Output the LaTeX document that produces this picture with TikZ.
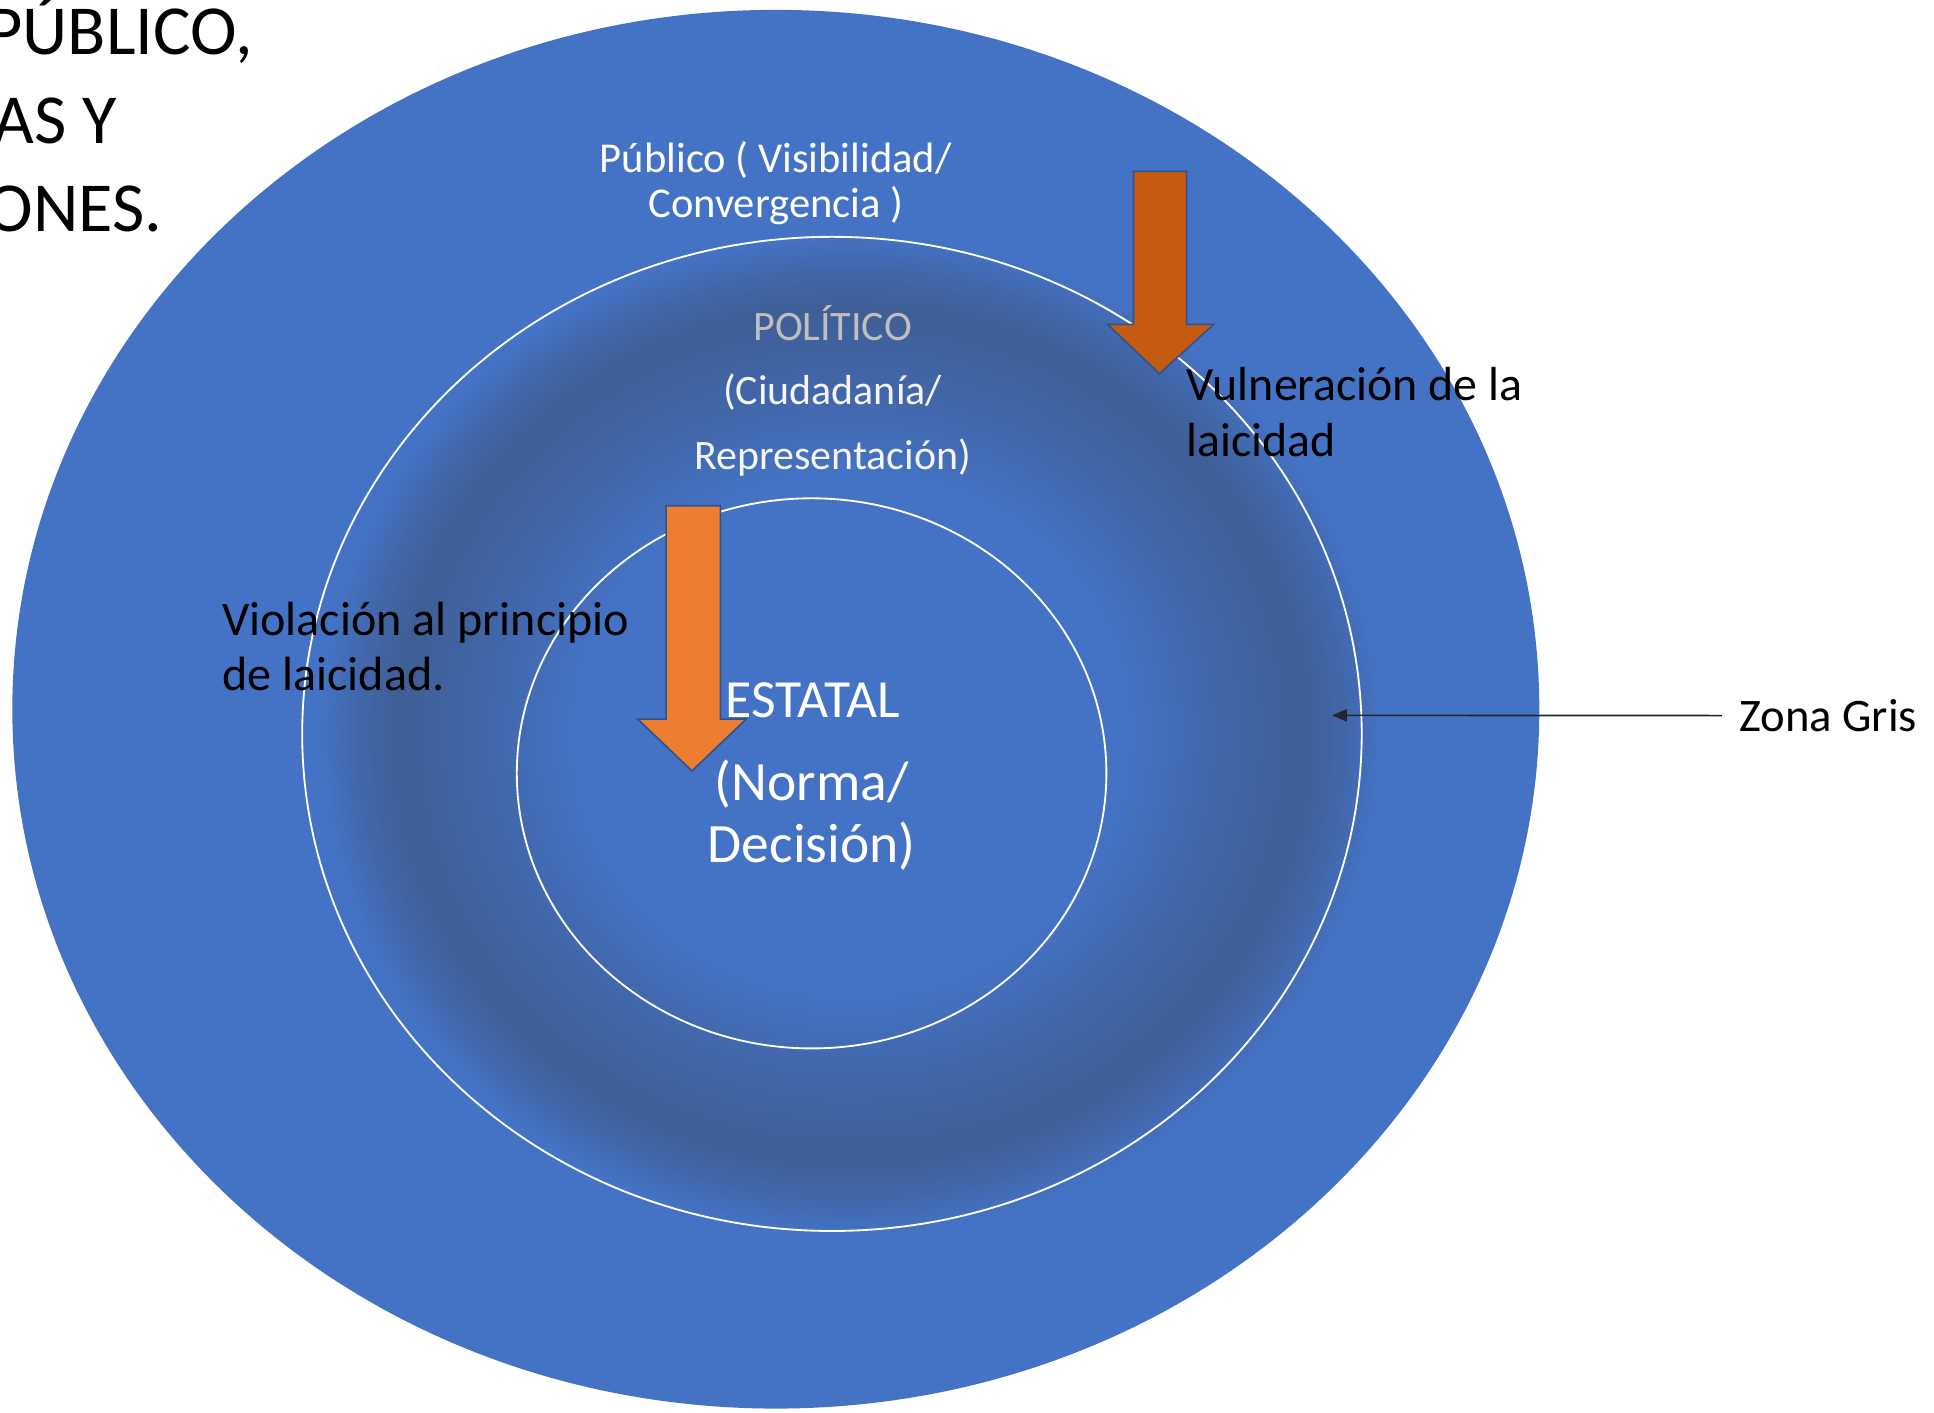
\documentclass[tikz,border=0pt]{standalone}
\usepackage{fontspec}
\setmainfont{Carlito}
\usetikzlibrary{arrows.meta}

\definecolor{azul}{HTML}{4472C4}
\definecolor{oscuro}{HTML}{3F5E96}
\colorlet{medio}{azul!45!oscuro}
\definecolor{naranja}{HTML}{ED7D31}
\definecolor{naranjaosc}{HTML}{C55A11}
\definecolor{borde}{HTML}{2F528F}
\definecolor{gristexto}{HTML}{BFBFBF}

\pgfdeclareradialshading{zonagris}{\pgfpoint{0bp}{0bp}}{%
  color(0bp)=(azul); color(13bp)=(azul); color(17bp)=(medio);
  color(21.3bp)=(oscuro); color(23.3bp)=(medio); color(25bp)=(azul);
  color(50bp)=(azul)}

\newcommand\tam[2]{\fontsize{#1}{#2}\selectfont}

\begin{document}
\begin{tikzpicture}[x=1pt,y=-1pt]

      \useasboundingbox (0,0) rectangle (1568,1145);
      \clip (0,0) rectangle (1568,1145);

      % fondo y anillos
      \fill[azul] (629,575) ellipse [x radius=619, y radius=567];
      \path[shading=zonagris] (690,595) ellipse [x radius=430, y radius=405];

      \begin{scope}[white, line width=1.5]
        \draw (674.5,595) ellipse [x radius=429.5, y radius=403];
        \draw (658,627) ellipse [x radius=239, y radius=223];
      \end{scope}

      % flechas
      \begin{scope}[draw=borde, line width=1.3, line join=miter]
        \filldraw[fill=naranjaosc] (919,139) -- (962,139) -- (962,263) -- (984,263)
          -- (940,303) -- (898,263) -- (919,263) -- cycle;
        \filldraw[fill=naranja] (540,410) -- (584,410) -- (584,583) -- (605,583)
          -- (561,625) -- (517,583) -- (540,583) -- cycle;
      \end{scope}

      % textos
      \begin{scope}[every node/.style={inner sep=0}]
        \node[anchor=base east, font=\tam{57}{72}] (titulo1) at (205,44)  {PÚBLICO,};
        \node[anchor=base east, font=\tam{57}{72}] (titulo2) at (95,116)  {AS Y};
        \node[anchor=base east, font=\tam{57}{72}] (titulo3) at (132,188) {ONES.};

        \node[white, align=center, anchor=base, font=\tam{34.5}{36}] (publico) at (629,176)
          {Público ( Visibilidad/\\Convergencia )};
        \node[gristexto, anchor=base, font=\tam{34}{53}] (politico) at (675,276) {POLÍTICO};
        \node[white!92!gray, align=center, anchor=base, font=\tam{34}{53}] (ciudadania) at (675,381)
          {(Ciudadanía/\\Representación)};

        \node[white, anchor=base, font=\tam{43.5}{50}] (estatal) at (659,582) {ESTATAL};
        \node[white, align=center, anchor=base, font=\tam{45}{50}] (norma) at (658,699)
          {(Norma/\\Decisión)};

        \node[align=left, anchor=base west, font=\tam{39}{45}] (violacion) at (180,560)
          {Violación al principio\\de laicidad.};
        \node[align=left, anchor=base west, font=\tam{38.8}{45}] (vulneracion) at (962,370)
          {Vulneración de la\\laicidad};

        \node[anchor=base west, inner xsep=14, font=\tam{37.8}{45}] (zona) at (1396,593) {Zona Gris};
      \end{scope}

      \coordinate (gris) at (1080,580);
      \draw[line width=1.3, black!85, -{Triangle[length=12, width=10]}] (zona.west) -- (gris);

\end{tikzpicture}
\end{document}
